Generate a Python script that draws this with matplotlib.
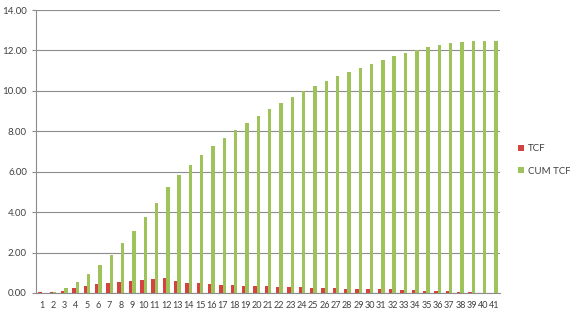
import numpy as np
import matplotlib
matplotlib.use('Agg')
import matplotlib.pyplot as plt

# periods 1..41
periods = list(range(1, 42))

# TCF per period
tcf = [0.03, 0.07, 0.12, 0.27, 0.37, 0.45, 0.51, 0.56, 0.61, 0.66,
       0.71, 0.74, 0.58, 0.51, 0.48, 0.43, 0.40, 0.38, 0.36, 0.35,
       0.33, 0.31, 0.30, 0.29, 0.27, 0.25, 0.23, 0.22, 0.20, 0.20,
       0.19, 0.18, 0.17, 0.14, 0.12, 0.10, 0.08, 0.06, 0.04, 0.02, 0.01]

# cumulative TCF
cum_tcf = [0.02, 0.07, 0.25, 0.53, 0.92, 1.37, 1.88, 2.46, 3.08, 3.76,
           4.47, 5.24, 5.82, 6.34, 6.83, 7.27, 7.67, 8.05, 8.42, 8.77,
           9.10, 9.40, 9.70, 9.98, 10.24, 10.49, 10.72, 10.94, 11.15, 11.35,
           11.54, 11.72, 11.89, 12.03, 12.16, 12.26, 12.35, 12.42, 12.46, 12.48, 12.49]

plt.rcParams['font.family'] = ['Lato', 'DejaVu Sans']

fig = plt.figure(figsize=(5.7, 3.15), dpi=100)
ax = fig.add_axes([36 / 570, 1 - 293 / 315, (500 - 36) / 570, (293 - 10) / 315])

x = np.arange(len(periods))
w = 0.3
ax.bar(x - w / 2, tcf, width=w, color='#D4433F', label='TCF', zorder=3)
ax.bar(x + w / 2, cum_tcf, width=w, color='#9DC35A', label='CUM TCF', zorder=3)

ax.set_xlim(-0.5, len(periods) - 0.5)
ax.set_ylim(0, 14)
ax.set_yticks(np.arange(0, 14.01, 2))
ax.set_yticklabels([f'{v:.2f}' for v in np.arange(0, 14.01, 2)])
ax.set_xticks(x)
ax.set_xticklabels([str(p) for p in periods])

ax.grid(axis='y', color='#8C8C8C', linewidth=0.8, zorder=0)
for s in ['top', 'right']:
    ax.spines[s].set_visible(False)
for s in ['left', 'bottom']:
    ax.spines[s].set_color('#8C8C8C')
    ax.spines[s].set_linewidth(0.8)
ax.tick_params(axis='y', labelsize=7, colors='#8C8C8C', labelcolor='#404040', length=3, width=0.8)
ax.tick_params(axis='x', labelsize=6.5, labelcolor='#404040', length=0, pad=6)

ax.legend(loc='center left', bbox_to_anchor=(1.02, 0.47), frameon=False,
          fontsize=7, handlelength=0.6, handleheight=0.6, handletextpad=0.4,
          labelspacing=1.4, labelcolor='#404040')

fig.savefig('out.png', dpi=100)
